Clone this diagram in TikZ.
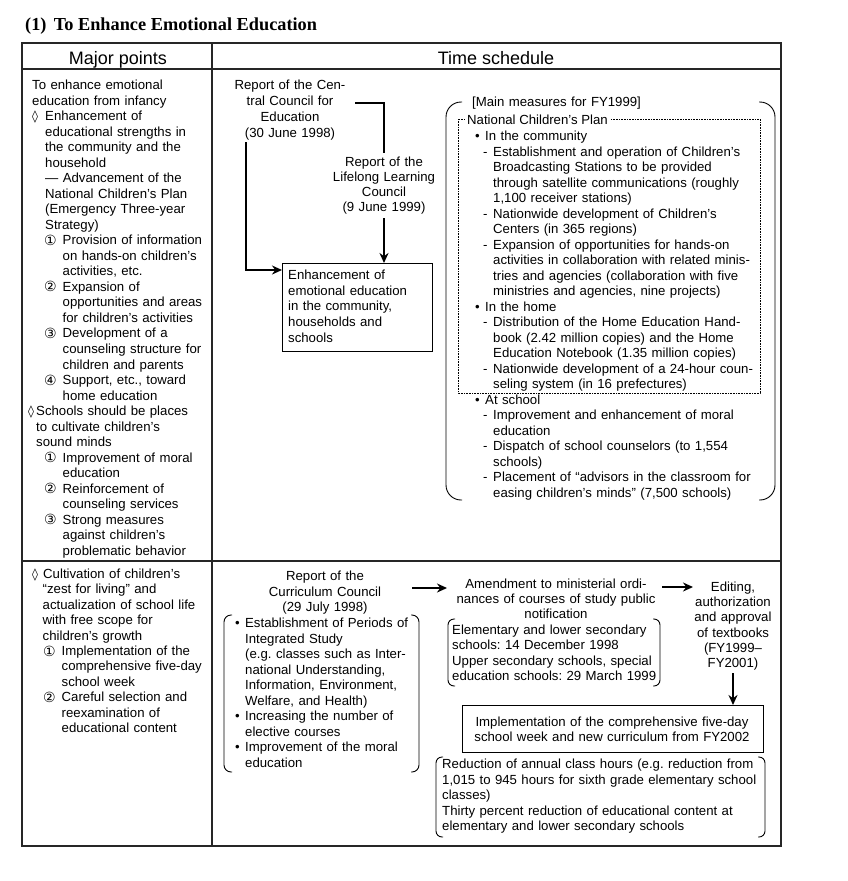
\documentclass[tikz,border=0pt]{standalone}
\usepackage{fontspec}
\setmainfont{Liberation Sans}
\newfontfamily\titlefont{Liberation Serif}
\newfontfamily\symfam{DejaVu Sans}
\usetikzlibrary{arrows.meta,calc}
\newcommand\circnum[1]{\makebox[18.5pt][l]{\raisebox{-0.5pt}{\symfam\fontsize{14}{12}\selectfont #1}}}
\newcommand\lozg{{\symfam\fontsize{12}{10}\selectfont ◊}}
\newcommand\bul{\makebox[10pt][l]{•}}
\newcommand\dsh{\makebox[10pt][l]{-}}
\begin{document}
\frenchspacing
\begin{tikzpicture}[x=1pt,y=-1pt,
  body/.style={font=\fontsize{13.2}{15.5}\selectfont, inner sep=0pt, align=left, text width=340pt, anchor=base west},
  ctr/.style={font=\fontsize{13.2}{15.5}\selectfont, inner sep=0pt, align=center, anchor=base},
  tbl/.style={line width=1.1pt, draw=black!85},
  conn/.style={line width=2pt},
  arr/.style={line width=2pt, -{Stealth[length=10pt,width=9pt]}},
  brk/.style={line width=0.9pt, rounded corners=#1},
  bx/.style={draw, line width=1.4pt, inner sep=0pt, anchor=north west}
]
\useasboundingbox (0,0) rectangle (847,881);
\fill[white] (0,0) rectangle (847,881);

% title
\node[anchor=base west, inner sep=0pt, font=\titlefont\bfseries\fontsize{18.3}{20}\selectfont] (title) at (25,30) {(1)\hspace{0.4em}To Enhance Emotional Education};

% table
\draw[tbl] (22,43) rectangle (781,846);
\draw[tbl] (22,69) -- (781,69);
\draw[tbl] (22,561) -- (781,561);
\draw[tbl] (212,43) -- (212,846);

\node[font=\fontsize{18}{18}\selectfont, anchor=base, inner sep=0pt] (hmaj) at (118,64) {Major points};
\node[font=\fontsize{18}{18}\selectfont, anchor=base, inner sep=0pt] (hts) at (496,64) {Time schedule};

% left column, row 1
\node[body, font=\fontsize{13.2}{15.53}\selectfont] (maj1) at (32,89.5) {To enhance emotional\\
education from infancy\\
\makebox[13pt][l]{\lozg}Enhancement of\\
\hspace*{13pt}educational strengths in\\
\hspace*{13pt}the community and the\\
\hspace*{13pt}household\\
\hspace*{13pt}— Advancement of the\\
\hspace*{13pt}National Children’s Plan\\
\hspace*{13pt}(Emergency Three-year\\
\hspace*{13pt}Strategy)\\
\hspace*{12pt}\circnum{①}Provision of information\\
\hspace*{30.5pt}on hands-on children’s\\
\hspace*{30.5pt}activities, etc.\\
\hspace*{12pt}\circnum{②}Expansion of\\
\hspace*{30.5pt}opportunities and areas\\
\hspace*{30.5pt}for children’s activities\\
\hspace*{12pt}\circnum{③}Development of a\\
\hspace*{30.5pt}counseling structure for\\
\hspace*{30.5pt}children and parents\\
\hspace*{12pt}\circnum{④}Support, etc., toward\\
\hspace*{30.5pt}home education\\
\hspace*{-4pt}\makebox[8pt][l]{\lozg}Schools should be places\\
\hspace*{4pt}to cultivate children’s\\
\hspace*{4pt}sound minds\\
\hspace*{12pt}\circnum{①}Improvement of moral\\
\hspace*{30.5pt}education\\
\hspace*{12pt}\circnum{②}Reinforcement of\\
\hspace*{30.5pt}counseling services\\
\hspace*{12pt}\circnum{③}Strong measures\\
\hspace*{30.5pt}against children’s\\
\hspace*{30.5pt}problematic behavior};

% left column, row 2
\node[body, font=\fontsize{13.2}{15.4}\selectfont] (maj2) at (32,578.5) {\makebox[11pt][l]{\lozg}Cultivation of children’s\\
\hspace*{10.5pt}“zest for living” and\\
\hspace*{10.5pt}actualization of school life\\
\hspace*{10.5pt}with free scope for\\
\hspace*{10.5pt}children’s growth\\
\hspace*{11pt}\circnum{①}Implementation of the\\
\hspace*{29.5pt}comprehensive five-day\\
\hspace*{29.5pt}school week\\
\hspace*{11pt}\circnum{②}Careful selection and\\
\hspace*{29.5pt}reexamination of\\
\hspace*{29.5pt}educational content};

% ---- row 1, time schedule
\node[ctr, font=\fontsize{13.2}{16}\selectfont, text width=150pt] (cce) at (290,89.5) {Report of the Cen-\\tral Council for\\Education\\(30 June 1998)};
\node[ctr, font=\fontsize{13.2}{15}\selectfont, text width=130pt, inner sep=4pt] (llc) at (384,166.5) {Report of the\\Lifelong Learning\\Council\\(9 June 1999)};
\node[bx, minimum width=150pt, minimum height=88pt] (enhbox) at (282,263) {};
\node[body, font=\fontsize{13.2}{15.7}\selectfont] (enhtxt) at (288,279.5) {Enhancement of\\emotional education\\in the community,\\households and\\schools};

\coordinate (c1) at (246,142);
\coordinate (c2) at (355,103);
\draw[arr] (c1) |- ($(enhbox.north west)+(0,7)$);
\draw[conn] (c2) -| (llc.north);
\draw[arr] (llc.south) -- (llc.south |- enhbox.north);

% main measures bracket
\draw[brk=15pt] (462,102) -- (446,102) -- (446,500) -- (462,500);
\draw[brk=15pt] (759,102) -- (775,102) -- (775,500) -- (759,500);
\node[body] (mm) at (472,106.5) {[Main measures for FY1999]};
\draw[line width=0.7pt, dash pattern=on 0.7pt off 0.9pt] (458,119) rectangle (760,393);
\node[body, text width=, fill=white, inner xsep=2pt, inner ysep=1pt] (ncp) at (465,124.5) {National Children’s Plan};
\node[body] (mlist) at (475,140.5) {\bul In the community\\
\hspace*{8pt}\dsh Establishment and operation of Children’s\\
\hspace*{18pt}Broadcasting Stations to be provided\\
\hspace*{18pt}through satellite communications (roughly\\
\hspace*{18pt}1,100 receiver stations)\\
\hspace*{8pt}\dsh Nationwide development of Children’s\\
\hspace*{18pt}Centers (in 365 regions)\\
\hspace*{8pt}\dsh Expansion of opportunities for hands-on\\
\hspace*{18pt}activities in collaboration with related minis-\\
\hspace*{18pt}tries and agencies (collaboration with five\\
\hspace*{18pt}ministries and agencies, nine projects)\\
\bul In the home\\
\hspace*{8pt}\dsh Distribution of the Home Education Hand-\\
\hspace*{18pt}book (2.42 million copies) and the Home\\
\hspace*{18pt}Education Notebook (1.35 million copies)\\
\hspace*{8pt}\dsh Nationwide development of a 24-hour coun-\\
\hspace*{18pt}seling system (in 16 prefectures)\\
\bul At school\\
\hspace*{8pt}\dsh Improvement and enhancement of moral\\
\hspace*{18pt}education\\
\hspace*{8pt}\dsh Dispatch of school counselors (to 1,554\\
\hspace*{18pt}schools)\\
\hspace*{8pt}\dsh Placement of “advisors in the classroom for\\
\hspace*{18pt}easing children’s minds” (7,500 schools)};

% ---- row 2, time schedule
\node[ctr, text width=150pt] (cc) at (325,580.5) {Report of the\\Curriculum Council\\(29 July 1998)};
\draw[brk=7pt] (232,615) -- (224,615) -- (224,772) -- (232,772);
\draw[brk=7pt] (411,615) -- (419,615) -- (419,772) -- (411,772);
\node[body, font=\fontsize{13.2}{15.55}\selectfont] (cclist) at (235,627.5) {\bul Establishment of Periods of\\
\hspace*{10pt}Integrated Study\\
\hspace*{10pt}(e.g. classes such as Inter-\\
\hspace*{10pt}national Understanding,\\
\hspace*{10pt}Information, Environment,\\
\hspace*{10pt}Welfare, and Health)\\
\bul Increasing the number of\\
\hspace*{10pt}elective courses\\
\bul Improvement of the moral\\
\hspace*{10pt}education};

\node[ctr, font=\fontsize{13.2}{15}\selectfont, text width=230pt] (am) at (556,588.5) {Amendment to ministerial ordi-\\nances of courses of study public\\notification};
\draw[brk=6pt] (455,619) -- (448,619) -- (448,686) -- (455,686);
\draw[brk=6pt] (653,619) -- (660,619) -- (660,686) -- (653,686);
\node[body, font=\fontsize{13.2}{15.3}\selectfont] (amlist) at (452,634.5) {Elementary and lower secondary\\schools: 14 December 1998\\Upper secondary schools, special\\education schools: 29 March 1999};

\node[ctr, font=\fontsize{13.2}{15.2}\selectfont, text width=100pt, inner sep=3pt] (ed) at (733,591.5) {Editing,\\authorization\\and approval\\of textbooks\\(FY1999–\\FY2001)};

\coordinate (a1s) at (412,588);
\coordinate (a1e) at (447,588);
\coordinate (a2s) at (662,587);
\coordinate (a2e) at (693,587);
\draw[arr] (a1s) -- (a1e);
\draw[arr] (a2s) -- (a2e);

\node[bx, minimum width=301pt, minimum height=47pt] (implbox) at (462,705) {};
\node[ctr, font=\fontsize{13.2}{15}\selectfont, text width=300pt] (impltxt) at (612,726.5) {Implementation of the comprehensive five-day\\school week and new curriculum from FY2002};
\draw[arr] (ed.south) -- (ed.south |- implbox.north);

\draw[brk=6pt] (443,757) -- (436,757) -- (436,837) -- (443,837);
\draw[brk=6pt] (758,757) -- (765,757) -- (765,837) -- (758,837);
\node[body] (red) at (442,768.5) {\makebox[315pt][s]{Reduction of annual class hours (e.g. reduction from}\\
\makebox[315pt][s]{1,015 to 945 hours for sixth grade elementary school}\\
classes)\\
\makebox[315pt][s]{Thirty percent reduction of educational content at}\\
elementary and lower secondary schools};
\end{tikzpicture}
\end{document}
